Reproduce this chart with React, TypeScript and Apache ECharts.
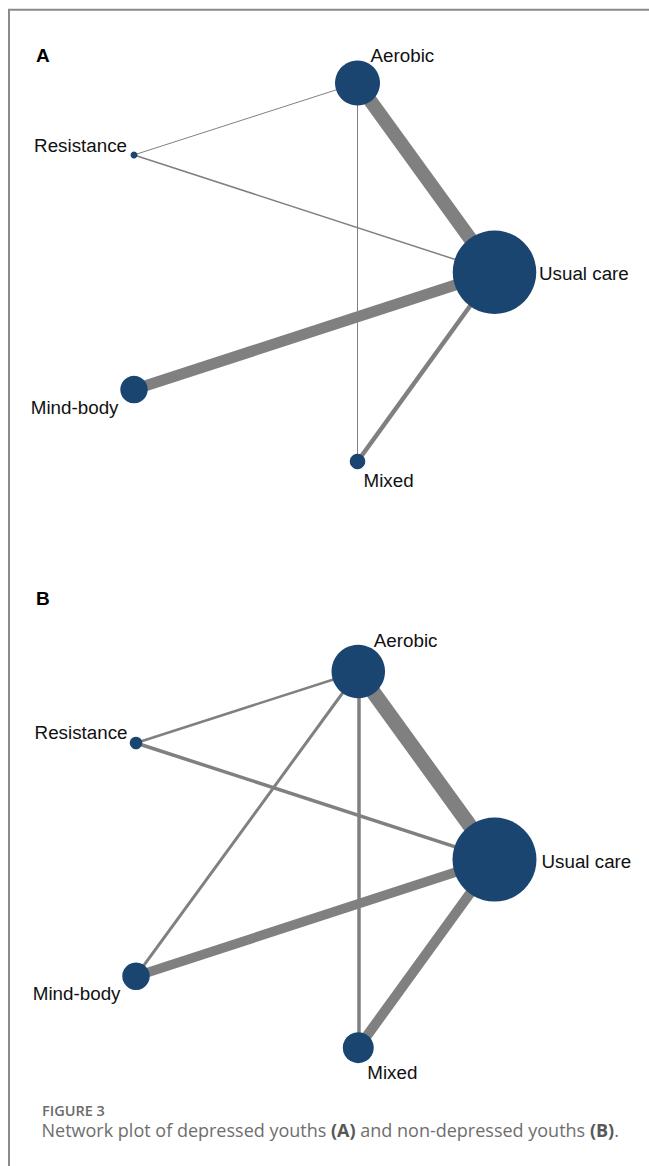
import React, { useEffect, useRef } from "react";
import * as echarts from "echarts";

// Treatments (nodes) of the network
const treatments = ["Aerobic", "Resistance", "Usual care", "Mind-body", "Mixed"];
// Network layout coordinates (shared by both panels), unitless 0-100
const layoutX = [62, 0, 100, 0, 62];
const layoutY = [0, 19, 50, 81, 100];
// Node weights (drawn as symbol diameters)
const nodeWeightA = [45, 7, 83.5, 27.5, 15.5];
const nodeWeightB = [53.5, 12.5, 84, 27.5, 31];
// Edges (comparisons) and their weights (drawn as line widths)
const edgeSourceA = ["Aerobic", "Aerobic", "Aerobic", "Resistance", "Mind-body", "Mixed"];
const edgeTargetA = ["Usual care", "Resistance", "Mixed", "Usual care", "Usual care", "Usual care"];
const edgeWeightA = [14, 1, 1, 1.5, 11, 4.5];
const edgeSourceB = ["Aerobic", "Aerobic", "Aerobic", "Aerobic", "Resistance", "Mind-body", "Mixed"];
const edgeTargetB = ["Usual care", "Resistance", "Mixed", "Mind-body", "Usual care", "Usual care", "Usual care"];
const edgeWeightB = [15, 2.5, 3.5, 3, 3.5, 9.5, 10];
const panelLetters = ["A", "B"];
const captionLabel = "FIGURE 3";

// label placement (style): offset from node centre and alignment
const labelStyleA: Record<string, { off: [number, number]; align: string }> = {
  Aerobic: { off: [13, -28], align: "left" },
  Resistance: { off: [-7, -9], align: "right" },
  "Usual care": { off: [44.5, 1], align: "left" },
  "Mind-body": { off: [-15.5, 18], align: "right" },
  Mixed: { off: [6, 18.5], align: "left" },
};
const labelStyleB: Record<string, { off: [number, number]; align: string }> = {
  Aerobic: { off: [15.5, -31.5], align: "left" },
  Resistance: { off: [-8.5, -10], align: "right" },
  "Usual care": { off: [47, 1.5], align: "left" },
  "Mind-body": { off: [-15.5, 17], align: "right" },
  Mixed: { off: [9, 25], align: "left" },
};

const FONT = "'Liberation Sans', Arial, Helvetica, sans-serif";
const CAP_FONT = "'Open Sans', 'Noto Sans', sans-serif";
const NODE_COLOR = "#1b4571";
const EDGE_COLOR = "#808080";

function buildSeries(
  idx: number,
  sizes: number[],
  src: string[],
  tgt: string[],
  w: number[],
  lab: Record<string, { off: [number, number]; align: string }>
) {
  return {
    type: "graph",
    coordinateSystem: "cartesian2d",
    xAxisIndex: idx,
    yAxisIndex: idx,
    layout: "none",
    silent: true,
    symbol: "circle",
    itemStyle: { color: NODE_COLOR },
    lineStyle: { color: EDGE_COLOR, opacity: 1, curveness: 0 },
    emphasis: { disabled: true },
    data: treatments.map((name, i) => ({
      name,
      value: [layoutX[i], layoutY[i]],
      symbolSize: sizes[i],
      label: {
        show: true,
        position: "inside",
        align: lab[name].align,
        verticalAlign: "middle",
        offset: lab[name].off,
        color: "#111111",
        fontFamily: FONT,
        fontSize: 18.8,
      },
    })),
    links: src.map((s, i) => ({
      source: s,
      target: tgt[i],
      lineStyle: { width: w[i] },
    })),
  };
}

export default function App() {
  const ref = useRef<HTMLDivElement>(null);
  useEffect(() => {
    document.body.style.margin = "0";
    if (!ref.current) return;
    const chart = echarts.init(ref.current, undefined, { renderer: "svg" });
    const axisCommon = { type: "value", show: false, min: 0, max: 100 };
    chart.setOption({
      animation: false,
      backgroundColor: "#ffffff",
      grid: [
        { left: 134, top: 83, width: 360.5, height: 378.5 },
        { left: 136, top: 671.5, width: 358.5, height: 376.2 },
      ],
      xAxis: [
        { ...axisCommon, gridIndex: 0 },
        { ...axisCommon, gridIndex: 1 },
      ],
      yAxis: [
        { ...axisCommon, gridIndex: 0, inverse: true },
        { ...axisCommon, gridIndex: 1, inverse: true },
      ],
      title: [
        {
          text: panelLetters[0],
          left: 36,
          top: 46,
          padding: 0,
          textStyle: { fontFamily: FONT, fontSize: 19, fontWeight: "bold", color: "#000" },
        },
        {
          text: panelLetters[1],
          left: 36,
          top: 589,
          padding: 0,
          textStyle: { fontFamily: FONT, fontSize: 19, fontWeight: "bold", color: "#000" },
        },
      ],
      graphic: [
        {
          type: "rect",
          silent: true,
          shape: { x: 9, y: 9.8, width: 760, height: 1300 },
          style: { fill: "none", stroke: "#8a8a8a", lineWidth: 2 },
        },
        {
          type: "text",
          x: 42,
          y: 1110,
          silent: true,
          style: {
            text: captionLabel,
            fontFamily: CAP_FONT,
            fontSize: 14.5,
            lineHeight: 14,
            fontWeight: 600,
            fill: "#6b6b6b",
            verticalAlign: "middle",
          },
        },
        {
          type: "text",
          x: 41.5,
          y: 1130,
          silent: true,
          style: {
            text:
              "{n|Network plot of depressed youths }{b|(A)}{n| and non-depressed youths }{b|(B)}{n|.}",
            fontFamily: CAP_FONT,
            fontSize: 18,
            lineHeight: 18,
            fill: "#6e6e6e",
            verticalAlign: "middle",
            rich: {
              n: { fontFamily: CAP_FONT, fontSize: 18, lineHeight: 18, fill: "#6e6e6e" },
              b: { fontFamily: CAP_FONT, fontSize: 18, lineHeight: 18, fontWeight: "bold", fill: "#585858" },
            },
          },
        },
      ],
      series: [
        buildSeries(0, nodeWeightA, edgeSourceA, edgeTargetA, edgeWeightA, labelStyleA),
        buildSeries(1, nodeWeightB, edgeSourceB, edgeTargetB, edgeWeightB, labelStyleB),
      ],
    });
    return () => chart.dispose();
  }, []);
  return <div ref={ref} style={{ width: 649, height: 1166 }} />;
}
